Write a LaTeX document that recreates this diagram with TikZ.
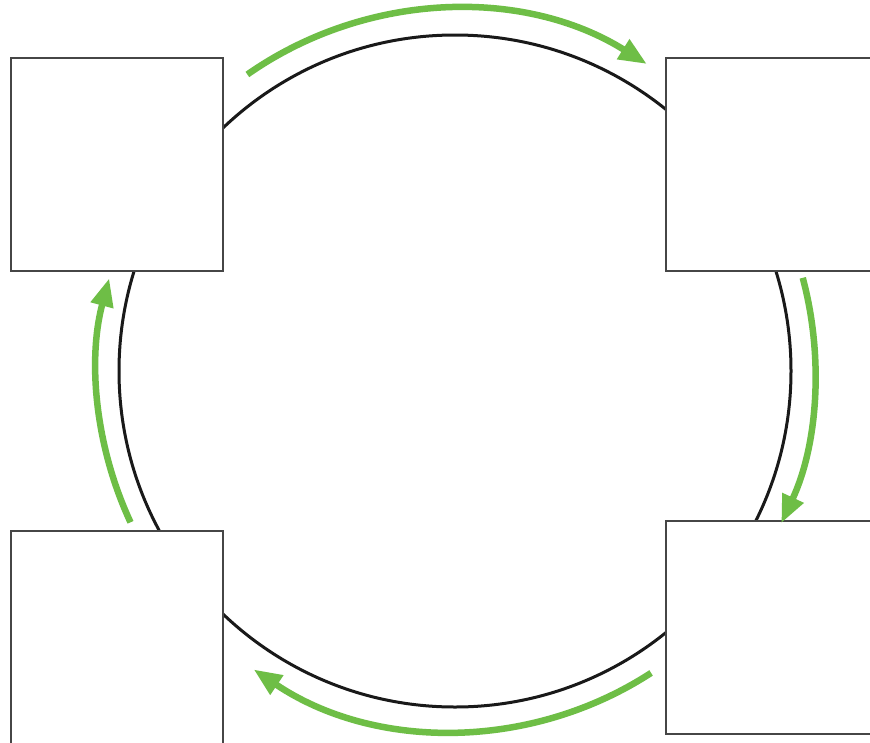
\documentclass[tikz,border=0pt]{standalone}
\usetikzlibrary{arrows.meta}
\definecolor{flowgreen}{RGB}{110,190,70}
\definecolor{boxgray}{RGB}{70,70,70}
\tikzset{
  stagebox/.style={draw=boxgray, line width=1.8pt, fill=white, minimum width=212pt, minimum height=213pt, inner sep=0pt},
  ring/.style={draw=black!90, line width=3pt},
  flowarrow/.style={draw=flowgreen, line width=6.5pt, -{Triangle[length=28pt,width=22pt]}}
}
\begin{document}
\begin{tikzpicture}[x=1pt,y=-1pt]
\clip (0,0) rectangle (870,742);
\fill[white] (0,0) rectangle (870,742);
\coordinate (c) at (455,371);
\draw[ring] (c) circle[radius=336];
\node[stagebox] (tl) at (117,164.5) {};
\node[stagebox] (tr) at (772,164.5) {};
\node[stagebox] (bl) at (117,637.5) {};
\node[stagebox] (br) at (772,627.5) {};
\draw[flowarrow] ([shift={(-125:362)}]c) arc[start angle=-125, end angle=-58, radius=362];
\draw[flowarrow] ([shift={(-15:360)}]c) arc[start angle=-15, end angle=25, radius=360];
\draw[flowarrow] ([shift={(57:360)}]c) arc[start angle=57, end angle=124, radius=360];
\draw[flowarrow] ([shift={(-205:358)}]c) arc[start angle=-205, end angle=-165, radius=358];
\end{tikzpicture}
\end{document}
